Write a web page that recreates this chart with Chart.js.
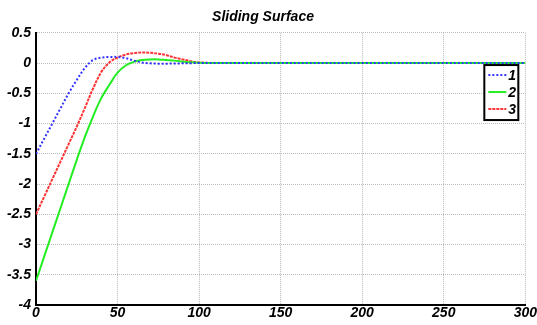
<!DOCTYPE html>
<html>
<head>
<meta charset="utf-8">
<script src="https://cdn.jsdelivr.net/npm/chart.js@4.4.0/dist/chart.umd.min.js"></script>
<style>
  html, body { margin: 0; padding: 0; background: #fff; }
  #wrap { width: 537px; height: 325px; }
</style>
</head>
<body>
<div id="wrap"><canvas id="sChart"></canvas></div>
<script>
// du lieu doc tu hinh
const steps = [0,5,10,15,20,25,30,35,40,45,50,55,60,65,70,75,80,85,90,95,100,110,120,150,200,250,300];
const s1 = [-1.5,-1.25,-1.0,-0.75,-0.5,-0.28,-0.08,0.05,0.09,0.1,0.1,0.08,0.04,0.01,-0.005,-0.01,-0.01,-0.008,-0.004,-0.002,0,0,0,0,0,0,0];
const s2 = [-3.6,-3.2,-2.8,-2.4,-2.0,-1.6,-1.22,-0.88,-0.58,-0.36,-0.16,-0.04,0.02,0.05,0.06,0.06,0.05,0.04,0.025,0.012,0.005,0,0,0,0,0,0];
const s3 = [-2.5,-2.21,-1.92,-1.63,-1.34,-1.05,-0.74,-0.42,-0.15,0.01,0.09,0.14,0.165,0.175,0.17,0.155,0.13,0.09,0.06,0.03,0.01,0,0,0,0,0,0];
const seriesNames = ["1","2","3"];
const xTicks = [0,50,100,150,200,250,300];
const yTicks = [0.5,0,-0.5,-1,-1.5,-2,-2.5,-3,-3.5,-4];

const tickFont = { family: "'Liberation Sans', Arial, sans-serif", size: 14, weight: "bold", style: "italic" };

function pts(ys) {
  return steps.map((x, i) => ({ x: x, y: ys[i] }));
}

// legend ve trong vung bieu do (goc tren ben phai)
const boxLegend = {
  id: "boxLegend",
  afterDatasetsDraw(chart) {
    const ctx = chart.ctx;
    const area = chart.chartArea;
    const yZero = chart.scales.y.getPixelForValue(0);
    const w = 34, h = 55;
    const left = area.right - 7 - w;
    const top = yZero + 2;
    ctx.save();
    ctx.fillStyle = "#fff";
    ctx.fillRect(left, top, w, h);
    ctx.lineWidth = 2;
    ctx.strokeStyle = "#000";
    ctx.strokeRect(left, top, w, h);
    ctx.font = "italic bold 14px 'Liberation Sans', Arial, sans-serif";
    ctx.textBaseline = "middle";
    chart.data.datasets.forEach((ds, i) => {
      const yy = top + 10 + i * 17;
      ctx.beginPath();
      ctx.strokeStyle = ds.borderColor;
      ctx.lineWidth = ds.borderWidth;
      ctx.setLineDash(ds.borderDash || []);
      ctx.moveTo(left + 4, yy);
      ctx.lineTo(left + 22, yy);
      ctx.stroke();
      ctx.setLineDash([]);
      ctx.fillStyle = "#000";
      ctx.fillText(ds.label, left + 24, yy + 1);
    });
    ctx.restore();
  }
};

new Chart(document.getElementById("sChart"), {
  type: "line",
  data: {
    datasets: [
      { label: seriesNames[0], data: pts(s1), borderColor: "#3333ff", borderWidth: 2, borderDash: [2, 2], pointRadius: 0, tension: 0.35, fill: false },
      { label: seriesNames[1], data: pts(s2), borderColor: "#22ee22", borderWidth: 2, pointRadius: 0, tension: 0.35, fill: false },
      { label: seriesNames[2], data: pts(s3), borderColor: "#ff3333", borderWidth: 2, borderDash: [3, 1], pointRadius: 0, tension: 0.35, fill: false }
    ]
  },
  options: {
    responsive: true,
    maintainAspectRatio: false,
    animation: false,
    layout: { padding: { top: 0, right: 11, left: 0, bottom: 0 } },
    plugins: {
      legend: { display: false },
      tooltip: { enabled: false },
      title: {
        display: true,
        text: "Sliding Surface",
        color: "#000",
        font: { family: "'Liberation Sans', Arial, sans-serif", size: 14, weight: "bold", style: "italic" },
        padding: { top: 9, bottom: 7 }
      }
    },
    scales: {
      x: {
        type: "linear",
        min: 0, max: 300,
        afterBuildTicks(axis) { axis.ticks = xTicks.map(v => ({ value: v })); },
        afterFit(axis) { axis.height = 20; },
        ticks: { color: "#000", font: tickFont, maxRotation: 0, padding: 0, callback: v => String(v) },
        grid: { color: "#bbb", lineWidth: 1, drawTicks: false },
        border: { color: "#000", width: 2, dash: [1, 1] }
      },
      y: {
        min: -4, max: 0.5,
        afterBuildTicks(axis) { axis.ticks = yTicks.map(v => ({ value: v })); },
        afterFit(axis) { axis.width = 36; },
        ticks: { color: "#000", font: tickFont, padding: 5, callback: v => String(v) },
        grid: { color: "#bbb", lineWidth: 1, drawTicks: false },
        border: { color: "#000", width: 2, dash: [1, 1] }
      }
    }
  },
  plugins: [boxLegend]
});
</script>
</body>
</html>
